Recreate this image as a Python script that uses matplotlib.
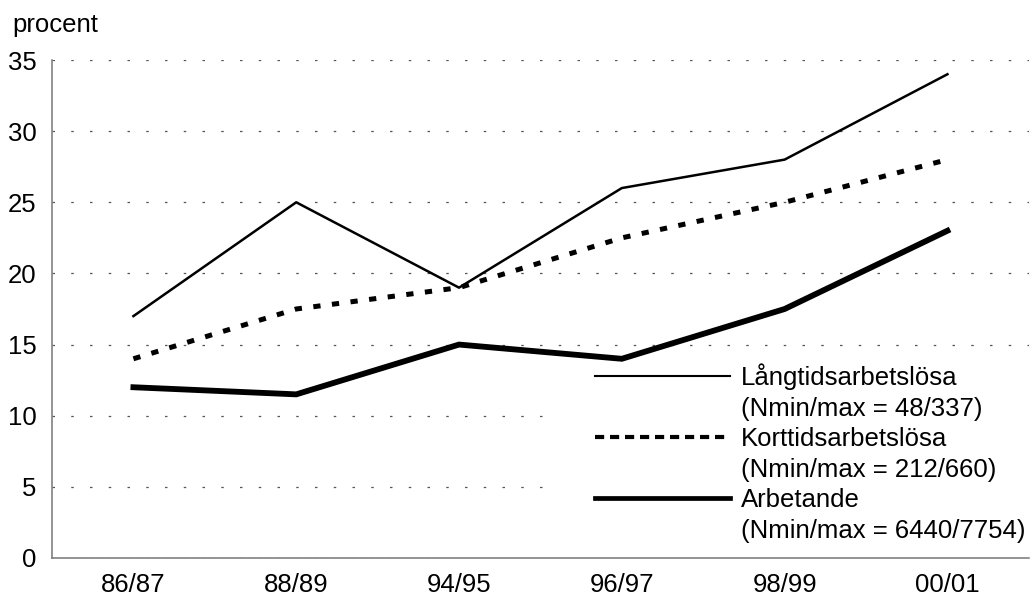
import matplotlib
matplotlib.use("Agg")
import matplotlib.pyplot as plt
from matplotlib.lines import Line2D
from matplotlib.patches import Rectangle

plt.rcParams["font.family"] = ["Liberation Sans", "DejaVu Sans"]

periods = ["86/87", "88/89", "94/95", "96/97", "98/99", "00/01"]
langtid = [17, 25, 19, 26, 28, 34]
korttid = [14, 17.5, 19, 22.5, 25, 28]
arbetande = [12, 11.5, 15, 14, 17.5, 23]

names = ["Långtidsarbetslösa", "Korttidsarbetslösa", "Arbetande"]
n_notes = ["(Nmin/max = 48/337)", "(Nmin/max = 212/660)", "(Nmin/max = 6440/7754)"]
yticks = [0, 5, 10, 15, 20, 25, 30, 35]

FS = 18.5

fig = plt.figure(figsize=(10.34, 5.96), dpi=100)
ax = fig.add_axes([0.0503, 0.0638, 0.9447, 0.8355])

x = list(range(len(periods)))
ax.plot(x, langtid, color="black", lw=1.8, zorder=3)
ax.plot(x, korttid, color="black", lw=3.6, linestyle=(0, (1.45, 2.3)),
        dash_capstyle="butt", zorder=3)
ax.plot(x, arbetande, color="black", lw=4.2, solid_joinstyle="miter", zorder=3)

ax.set_xlim(-0.5, len(periods) - 0.5)
ax.set_ylim(0, 35)
ax.set_xticks(x)
ax.set_xticklabels(periods, fontsize=FS)
ax.set_yticks(yticks)
ax.set_yticklabels([str(v) for v in yticks], fontsize=FS)
ax.tick_params(axis="both", length=0)
ax.tick_params(axis="x", pad=10.5)
ax.tick_params(axis="y", pad=11)

# dotted gray gridlines
ax.set_axisbelow(True)
ax.yaxis.grid(True, color="#555555", lw=0.9, linestyle=(0, (2, 13)))

for side in ("top", "right"):
    ax.spines[side].set_visible(False)
for side in ("left", "bottom"):
    ax.spines[side].set_color("#777777")
    ax.spines[side].set_linewidth(1.1)

# white area behind the legend hides the grid there
ax.add_patch(Rectangle((0.508, 0.0), 0.492, 0.408, transform=ax.transAxes,
                       facecolor="white", edgecolor="none", zorder=1))

blank = Line2D([], [], color="none")
handles = [
    Line2D([], [], color="black", lw=1.5), blank,
    Line2D([], [], color="black", lw=3.0, linestyle=(0, (2.2, 1.4)),
           dash_capstyle="butt"), blank,
    Line2D([], [], color="black", lw=3.4), blank,
]
labels = [names[0], n_notes[0], names[1], n_notes[1], names[2], n_notes[2]]
leg = ax.legend(handles, labels, loc="upper left",
                bbox_to_anchor=(0.556, 0.391), frameon=False, fontsize=FS,
                borderpad=0, borderaxespad=0, handlelength=5.25,
                handletextpad=0.43, labelspacing=0.255)
leg.set_zorder(5)

fig.text(0.012, 0.958, "procent", fontsize=FS, va="center", ha="left")

fig.savefig("out.png", dpi=100)
